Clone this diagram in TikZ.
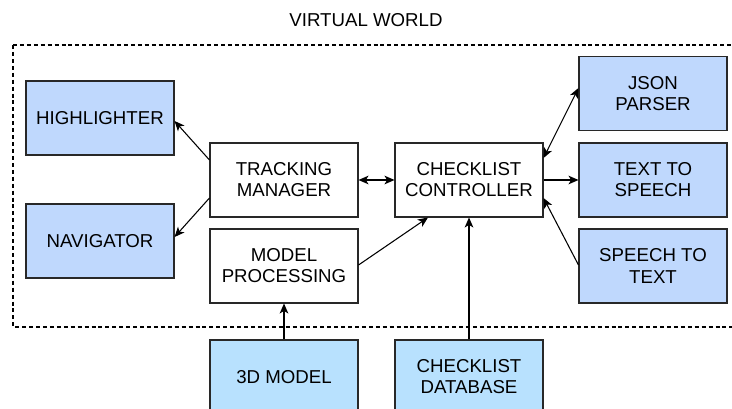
\documentclass[tikz,border=0pt]{standalone}
\usepackage{fontspec}
\setmainfont{Liberation Sans}
\usetikzlibrary{arrows.meta,calc}
\definecolor{boxblue}{RGB}{191,216,253}
\definecolor{boxcyan}{RGB}{184,225,254}
\definecolor{edge}{RGB}{40,40,40}
\tikzset{
  label font/.style={font=\fontsize{14}{15.8}\selectfont},
  block/.style={draw=edge, line width=0.8pt, minimum width=111pt, minimum height=55.5pt,
    align=center, inner sep=0pt, label font},
  comp/.style={block, fill=boxblue},
  ext/.style={block, fill=boxcyan},
  core/.style={block, fill=white},
  tip/.style={Stealth[length=7.5pt,width=6.5pt,inset=2pt]},
  link/.style={line width=0.8pt, -{Stealth[length=7.5pt,width=6.5pt,inset=2pt]}},
  duplex/.style={line width=0.8pt, {Stealth[length=7.5pt,width=6.5pt,inset=2pt]}-{Stealth[length=7.5pt,width=6.5pt,inset=2pt]}}
}
\begin{document}
\begin{tikzpicture}[x=0.75pt,y=-0.75pt]
\useasboundingbox (0,0) rectangle (732,409);
\clip (0,0) rectangle (732,409);

% Virtual world boundary
\draw[line width=0.8pt, dash pattern=on 3pt off 2.2pt] (13,45) -- (745,45) (13,45) -- (13,327) -- (745,327);
\node[label font] (title) at (366,20) {VIRTUAL WORLD};

% Components
\node[comp] (hl)   at (100,118)  {HIGHLIGHTER};
\node[comp] (nav)  at (100,241)  {NAVIGATOR};
\node[core] (tm)   at (284,180)  {TRACKING\\MANAGER};
\node[core] (mp)   at (284,266)  {MODEL\\PROCESSING};
\node[core] (cc)   at (469,180)  {CHECKLIST\\CONTROLLER};
\node[comp] (json) at (653,93.5) {JSON\\PARSER};
\node[comp] (tts)  at (653,180)  {TEXT TO\\SPEECH};
\node[comp] (stt)  at (653,266)  {SPEECH TO\\TEXT};
\node[ext]  (m3d)  at (284,377)  {3D MODEL};
\node[ext]  (db)   at (469,377)  {CHECKLIST\\DATABASE};

% Connections
\draw[link]   ($(tm.west)+(0,-20)$) -- ($(hl.east)+(0,3)$);
\draw[link]   ($(tm.west)+(0,18)$)  -- ($(nav.east)+(0,-4)$);
\draw[duplex] (tm.east) -- (cc.west);
\draw[duplex] ($(cc.east)+(0,-22)$) -- ($(json.west)+(0,-5.5)$);
\draw[link]   (cc.east) -- (tts.west);
\draw[link]   ($(stt.west)+(0,-1)$) -- ($(cc.east)+(0,18)$);
\draw[link]   ($(mp.east)+(0,-1)$)  -- ($(cc.south)+(-41,0)$);
\draw[link]   (m3d.north) -- (mp.south);
\draw[link]   (db.north)  -- (cc.south);
\end{tikzpicture}
\end{document}
